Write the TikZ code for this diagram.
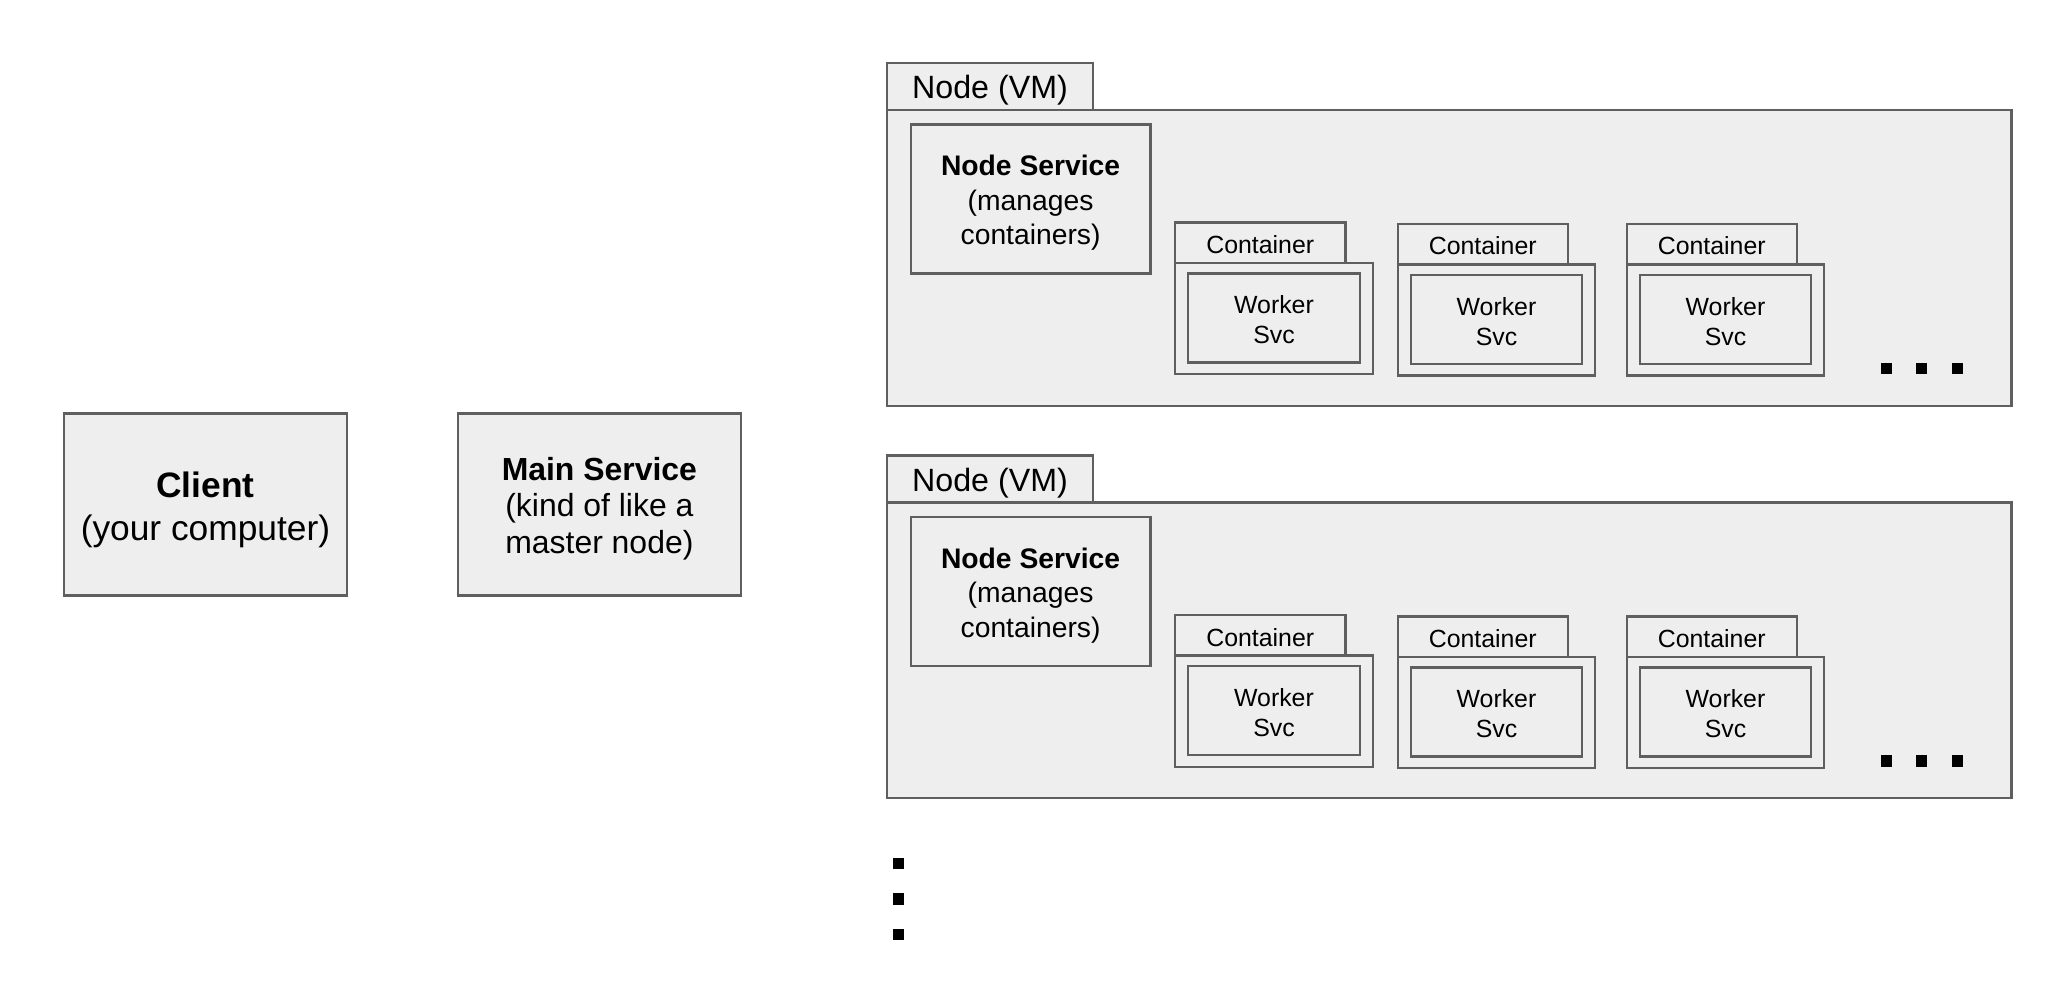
\documentclass[tikz,border=0pt]{standalone}
\usepackage{fontspec}
\setmainfont{Liberation Sans}
\definecolor{boxfill}{HTML}{EEEEEE}
\definecolor{boxline}{HTML}{5F5F5F}
\tikzset{
  box/.style={draw=boxline, fill=boxfill, line width=1.8pt, inner sep=0pt},
  txt/.style={inner sep=0pt, align=center, text=black},
  sqdot/.style={fill=black, draw=none, inner sep=0pt, minimum size=8.6pt},
}
\begin{document}
\begin{tikzpicture}[x=1pt,y=-1pt]
\useasboundingbox[fill=white] (0,0) rectangle (1568,763);

\node[box, minimum width=216pt, minimum height=139pt] (client) at (157,385.5) {};
\node[txt, font=\fontsize{27}{33}\selectfont] (client-t) at ([yshift=-4pt]client.center) {\textbf{Client}\\(your computer)};
\node[box, minimum width=216pt, minimum height=139pt] (main) at (458,385.5) {};
\node[txt, font=\fontsize{24.4}{28}\selectfont] (main-t) at ([yshift=-3pt]main.center) {\textbf{Main Service}\\(kind of like a\\master node)};

\foreach \k/\dy in {1/0,2/300}{
  \begin{scope}[shift={(0,\dy)}]
    \node[box, minimum width=859pt, minimum height=226pt] (vm\k) at (1107.5,197) {};
    \node[box, minimum width=157pt, minimum height=36pt] (tab\k) at (756.5,66) {};
    \node[txt, font=\fontsize{24.6}{28}\selectfont] (tab\k-t) at ([yshift=-3pt]tab\k.center) {Node (VM)};
    \node[box, minimum width=183pt, minimum height=114pt] (ns\k) at (787.5,152) {};
    \node[txt, font=\fontsize{21.6}{26.5}\selectfont] (ns\k-t) at ([yshift=-3pt]ns\k.center) {\textbf{Node Service}\\(manages\\containers)};
    \foreach \c/\dx/\ey in {1/0/0,2/170/1,3/345/1}{
      \node[box, minimum width=151pt, minimum height=85pt] (cb\k-\c) at (973.5+\dx,243.5+\ey) {};
      \node[box, minimum width=130pt, minimum height=31pt] (ct\k-\c) at (963+\dx,185.5+\ey) {};
      \node[txt, font=\fontsize{19}{23}\selectfont] (ct\k-\c-t) at ([yshift=-1.5pt]ct\k-\c.center) {Container};
      \node[box, minimum width=131pt, minimum height=68pt] (w\k-\c) at (973.5+\dx,243+\ey) {};
      \node[txt, font=\fontsize{19}{23}\selectfont] (w\k-\c-t) at ([yshift=-1.5pt]w\k-\c.center) {Worker\\Svc};
    }
    \foreach \i/\x in {1/1441.5,2/1468.5,3/1496}{
      \node[sqdot] (hd\k-\i) at (\x,281.5) {};
    }
  \end{scope}
}

\foreach \i/\y in {1/660,2/687,3/714}{
  \node[sqdot] (vd\i) at (686.5,\y) {};
}
\end{tikzpicture}
\end{document}
